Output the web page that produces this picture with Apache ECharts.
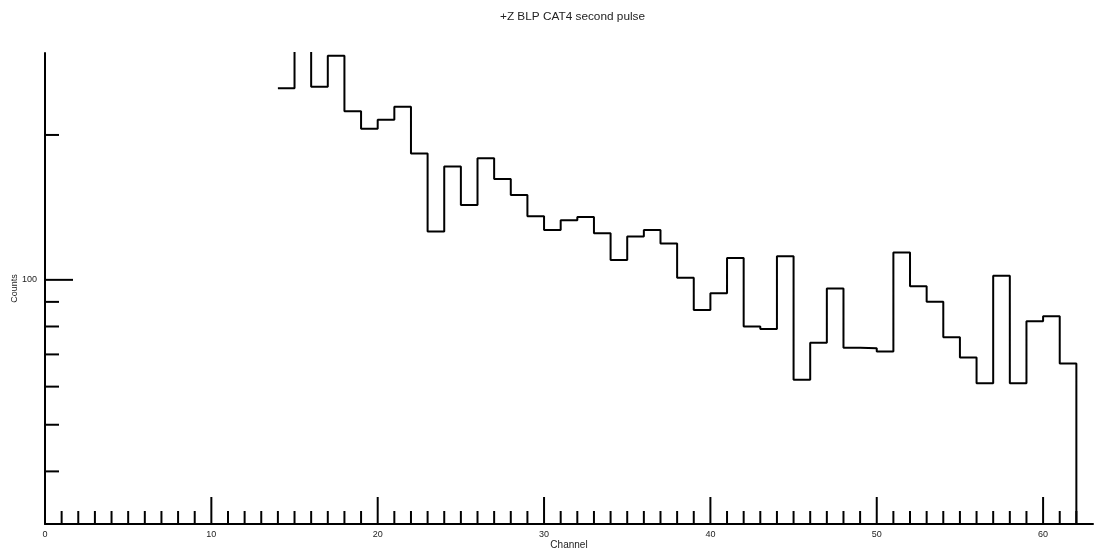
<!DOCTYPE html>
<html>
<head>
<meta charset="utf-8">
<script src="https://cdn.jsdelivr.net/npm/echarts@6/dist/echarts.min.js"></script>
<style>
  html, body { margin: 0; padding: 0; background: #fff; }
  #chart { width: 1099px; height: 554px; }
</style>
</head>
<body>
<div id="chart"></div>
<script>
// ---- data ----
const titleText = '+Z BLP CAT4 second pulse';
const xTitle = 'Channel';
const yTitle = 'Counts';
// bin low edges (bin width 1 channel); bins 0-13 are empty
const channels = [14, 15, 16, 17, 18, 19, 20, 21, 22, 23, 24, 25, 26, 27, 28, 29, 30,
  31, 32, 33, 34, 35, 36, 37, 38, 39, 40, 41, 42, 43, 44, 45, 46, 47, 48, 49, 50,
  51, 52, 53, 54, 55, 56, 57, 58, 59, 60, 61];
const counts = [250, 320, 252, 292, 224, 206, 215, 229, 183, 126, 172, 143, 179, 162, 150, 135.5, 127,
  133, 135, 125, 110, 123, 127, 119, 101, 86.6, 93.8, 111, 80, 79, 112, 62, 74, 96, 72.3, 72.1, 71,
  114, 97, 90, 76, 69, 61, 102, 61, 82, 84, 67];
const lastEdge = 62;
const xMin = 0, xMax = 63;
const yMin = 31.1, yMax = 296;
const xTickValues = [0, 1, 2, 3, 4, 5, 6, 7, 8, 9, 10, 11, 12, 13, 14, 15, 16, 17, 18, 19, 20,
  21, 22, 23, 24, 25, 26, 27, 28, 29, 30, 31, 32, 33, 34, 35, 36, 37, 38, 39, 40,
  41, 42, 43, 44, 45, 46, 47, 48, 49, 50, 51, 52, 53, 54, 55, 56, 57, 58, 59, 60, 61, 62];
const xLabelValues = [0, 10, 20, 30, 40, 50, 60];
const yTickValues = [40, 50, 60, 70, 80, 90, 100, 200];
const yLabelValues = [100];

// ---- build ----
const histData = channels.map((c, i) => [c, counts[i]]);
histData.push([lastEdge, counts[counts.length - 1]]);
histData.push([lastEdge, yMin]);

const FONT = 'Liberation Sans, Arial, Helvetica, sans-serif';
const chart = echarts.init(document.getElementById('chart'), null, { renderer: 'canvas' });

const tickStyle = { stroke: '#000', lineWidth: 2 };

chart.setOption({
  animation: false,
  backgroundColor: '#fff',
  title: {
    text: titleText,
    left: 495,
    top: 6,
    textStyle: { fontFamily: FONT, fontSize: 11.8, fontWeight: 'normal', color: '#222' }
  },
  grid: { left: 45, right: 6, top: 53, bottom: 30, containLabel: false, outerBoundsMode: 'none' },
  xAxis: {
    type: 'value',
    min: xMin, max: xMax,
    interval: 10,
    name: xTitle,
    nameLocation: 'middle',
    nameGap: 16,
    nameMoveOverlap: false,
    nameTextStyle: { fontFamily: FONT, fontSize: 10, color: '#222' },
    axisLine: { show: true, onZero: false, lineStyle: { color: '#000', width: 2 } },
    axisTick: { show: false },
    splitLine: { show: false },
    axisLabel: {
      margin: 6,
      fontFamily: FONT, fontSize: 9, color: '#222',
      formatter: v => xLabelValues.indexOf(v) >= 0 ? String(v) : ''
    }
  },
  yAxis: {
    type: 'log',
    logBase: 10,
    min: yMin, max: yMax,
    name: yTitle,
    nameLocation: 'middle',
    nameRotate: 90,
    nameGap: 26,
    nameMoveOverlap: false,
    nameTextStyle: { fontFamily: FONT, fontSize: 9, color: '#222' },
    axisLine: { show: true, onZero: false, lineStyle: { color: '#000', width: 2 } },
    axisTick: { show: false },
    splitLine: { show: false },
    axisLabel: {
      margin: 8,
      fontFamily: FONT, fontSize: 9, color: '#222',
      formatter: v => yLabelValues.some(l => Math.abs(l - v) < 1e-6) ? String(Math.round(v)) : ''
    }
  },
  series: [
    {
      type: 'line',
      data: histData,
      step: 'end',
      showSymbol: false,
      symbol: 'none',
      clip: true,
      lineStyle: { color: '#000', width: 2 },
      silent: true
    },
    {
      // x-axis tick marks (inside, pointing up)
      type: 'custom',
      silent: true,
      clip: false,
      data: xTickValues.map(v => [v, yMin]),
      renderItem: (params, api) => {
        const v = api.value(0);
        const p = api.coord([v, yMin]);
        const len = (v % 10 === 0) ? 27 : 13;
        return { type: 'line', shape: { x1: p[0], y1: p[1], x2: p[0], y2: p[1] - len }, style: tickStyle };
      }
    },
    {
      // y-axis tick marks (inside, pointing right)
      type: 'custom',
      silent: true,
      clip: false,
      data: yTickValues.map(v => [xMin, v]),
      renderItem: (params, api) => {
        const v = api.value(1);
        const p = api.coord([xMin, v]);
        const major = Math.abs(Math.log10(v) - Math.round(Math.log10(v))) < 1e-9;
        const len = major ? 28 : 14;
        return { type: 'line', shape: { x1: p[0], y1: p[1], x2: p[0] + len, y2: p[1] }, style: tickStyle };
      }
    }
  ]
});
</script>
</body>
</html>
